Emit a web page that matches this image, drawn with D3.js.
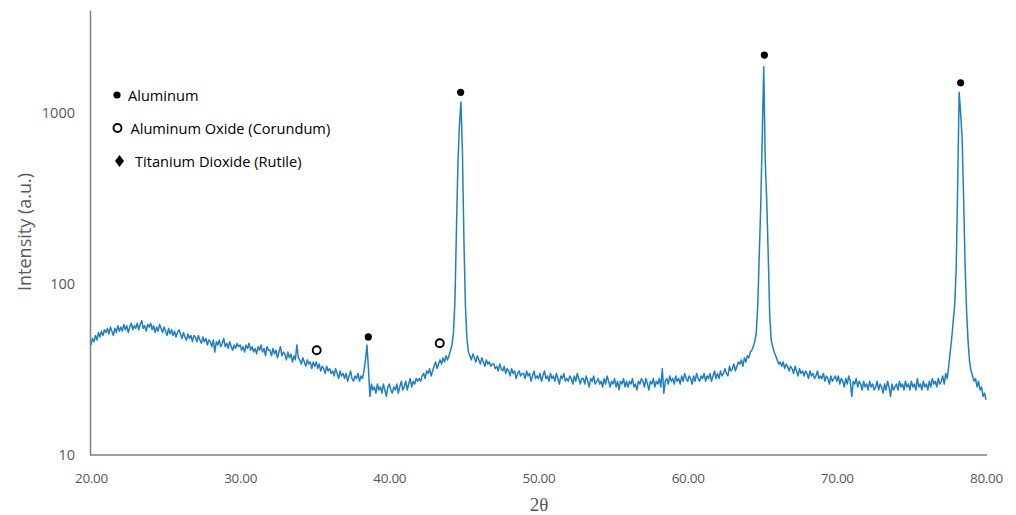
<!DOCTYPE html>
<html>
<head>
<meta charset="utf-8">
<script src="https://cdn.jsdelivr.net/npm/d3@7"></script>
<style>
  html, body { margin: 0; padding: 0; background: #fff; }
  svg { display: block; }
  text { font-family: "Open Sans", "Liberation Sans", sans-serif; }
</style>
</head>
<body>
<svg id="chart" width="1016" height="515"></svg>
<script>
// ---------- DATA ----------
const startAngle = 20.0;   // first 2θ sample
const stepAngle = 0.1;     // 2θ step between samples
// intensity (a.u.), one row per degree: 20.0 ... 79.9, then 80.0
const intensity = [
  44, 48, 46, 50, 47, 52, 49, 53, 50, 54,        // 20
  52, 55, 51, 56, 53, 50, 55, 52, 57, 53,        // 21
  56, 53, 58, 54, 57, 52, 56, 59, 54, 57,        // 22
  55, 59, 54, 58, 61, 55, 57, 53, 58, 56,        // 23
  59, 54, 57, 52, 56, 53, 58, 55, 52, 56,        // 24
  53, 50, 55, 51, 54, 50, 53, 49, 52, 54,        // 25
  51, 48, 52, 49, 47, 51, 48, 50, 46, 50,        // 26
  49, 46, 50, 47, 45, 49, 46, 48, 44, 47,        // 27
  46, 43, 47, 40, 46, 44, 47, 43, 45, 48,        // 28
  43, 45, 42, 46, 43, 41, 44, 42, 45, 43,        // 29
  44, 41, 43, 40, 44, 42, 45, 41, 43, 40,        // 30
  42, 39, 43, 41, 44, 40, 42, 38, 43, 41,        // 31
  41, 38, 42, 39, 41, 37, 40, 43, 38, 40,        // 32
  39, 36, 40, 37, 39, 35, 38, 36, 44, 37,        // 33
  36, 34, 37, 35, 33, 36, 34, 35, 32, 35,        // 34
  33, 35, 32, 34, 31, 33, 32, 30, 33, 31,        // 35
  32, 30, 31, 29, 32, 30, 28, 31, 29, 30,        // 36
  28, 30, 27, 29, 31, 28, 27, 29, 28, 30,        // 37
  27, 29, 28, 31, 36, 44, 32, 22, 26, 24,        // 38
  25, 23, 26, 24, 25, 23, 26, 24, 22, 25,        // 39
  26, 24, 23, 25, 24, 26, 23, 25, 27, 24,        // 40
  25, 27, 24, 26, 28, 25, 27, 26, 28, 27,        // 41
  28, 27, 29, 30, 28, 31, 30, 32, 29, 31,        // 42
  33, 35, 32, 34, 36, 34, 37, 35, 38, 36,        // 43
  38, 41, 44, 52, 80, 210, 510, 850, 1160, 600,  // 44
  180, 75, 48, 40, 38, 36, 39, 37, 35, 38,       // 45
  36, 34, 37, 35, 33, 36, 34, 35, 33, 34,        // 46
  34, 32, 33, 31, 34, 32, 31, 33, 30, 32,        // 47
  31, 29, 32, 30, 31, 28, 30, 31, 29, 30,        // 48
  30, 28, 31, 29, 30, 27, 29, 31, 28, 29,        // 49
  28, 30, 27, 29, 31, 28, 29, 27, 30, 28,        // 50
  29, 27, 30, 28, 26, 29, 28, 30, 27, 28,        // 51
  27, 29, 28, 26, 29, 27, 30, 28, 26, 28,        // 52
  28, 26, 29, 27, 25, 28, 27, 29, 26, 27,        // 53
  28, 26, 27, 25, 28, 26, 29, 27, 25, 27,        // 54
  26, 28, 25, 27, 24, 27, 26, 28, 25, 27,        // 55
  25, 27, 26, 28, 25, 26, 24, 27, 26, 28,        // 56
  27, 25, 28, 26, 24, 27, 26, 28, 25, 27,        // 57
  26, 28, 25, 32, 23, 27, 28, 26, 29, 27,        // 58
  28, 26, 29, 27, 28, 26, 29, 27, 30, 28,        // 59
  27, 29, 28, 26, 29, 27, 30, 28, 27, 29,        // 60
  28, 30, 27, 29, 28, 30, 27, 29, 31, 28,        // 61
  30, 28, 31, 29, 30, 32, 30, 29, 33, 31,        // 62
  32, 34, 31, 33, 35, 34, 36, 33, 37, 35,        // 63
  38, 37, 40, 41, 43, 46, 52, 75, 148, 290,      // 64
  725, 1860, 525, 310, 148, 66, 47, 43, 40, 38,  // 65
  36, 34, 35, 33, 35, 32, 34, 33, 31, 33,        // 66
  32, 30, 33, 31, 29, 32, 30, 31, 29, 31,        // 67
  30, 28, 31, 29, 30, 28, 29, 31, 28, 29,        // 68
  28, 30, 27, 29, 28, 26, 29, 27, 28, 29,        // 69
  27, 29, 26, 28, 27, 25, 28, 26, 29, 27,        // 70
  22, 27, 26, 28, 25, 27, 26, 24, 27, 25,        // 71
  26, 24, 27, 25, 26, 24, 25, 27, 24, 26,        // 72
  25, 23, 26, 24, 27, 25, 22, 26, 24, 25,        // 73
  26, 24, 27, 25, 26, 24, 27, 25, 26, 24,        // 74
  27, 25, 26, 24, 28, 25, 26, 24, 27, 25,        // 75
  26, 24, 27, 25, 28, 26, 27, 25, 28, 26,        // 76
  27, 29, 26, 30, 28, 33, 40, 48, 60, 75,        // 77
  121, 369, 1320, 1000, 710, 316, 127, 69, 46, 35, // 78
  31, 29, 27, 28, 25, 27, 24, 25, 22, 23,        // 79
  21                                             // 80
];

const xTicks = [20, 30, 40, 50, 60, 70, 80];
const yTicks = [10, 100, 1000];

// phase markers (2θ, intensity)
const aluminumMarks = [
  { t: 38.59, v: 49 }, { t: 44.78, v: 1320 }, { t: 65.14, v: 2180 }, { t: 78.30, v: 1500 }
];
const corundumMarks = [
  { t: 35.13, v: 41 }, { t: 43.38, v: 45 }
];
const legendItems = [
  { label: "Aluminum", symbol: "dot" },
  { label: "Aluminum Oxide (Corundum)", symbol: "ring" },
  { label: "Titanium Dioxide (Rutile)", symbol: "diamond" }
];

// ---------- CHART ----------
const svg = d3.select("#chart");
const x = d3.scaleLinear().domain([20, 80]).range([91, 986]);
const y = d3.scaleLog().domain([10, 4000]).range([455, 10]);

const axisColor = "#7f7f7f";
const labelColor = "#595959";
const lineColor = "#1f7fc6";

const pts = intensity.map((v, i) => ({ t: startAngle + i * stepAngle, v }));

// series
svg.append("path")
  .datum(pts)
  .attr("fill", "none")
  .attr("stroke", lineColor)
  .attr("stroke-width", 1.5)
  .attr("stroke-linejoin", "round")
  .attr("d", d3.line().x(d => x(d.t)).y(d => y(d.v)));

// y axis
const gy = svg.append("g")
  .attr("transform", "translate(90,0)")
  .call(d3.axisLeft(y).tickValues(yTicks).tickSize(0).tickPadding(15).tickFormat(d3.format("d")));
gy.select(".domain").attr("stroke", axisColor).attr("stroke-width", 1.5);
gy.selectAll("text").attr("fill", labelColor).style("font-size", "14.5px")
  .style("font-family", "'Open Sans', sans-serif");

// x axis
const gx = svg.append("g")
  .attr("transform", "translate(0,455)")
  .call(d3.axisBottom(x).tickValues(xTicks).tickSize(0).tickPadding(18).tickFormat(d3.format(".2f")));
gx.select(".domain").attr("stroke", axisColor).attr("stroke-width", 1.5)
  .attr("d", "M90,0H987");
gx.selectAll("text").attr("fill", labelColor).style("font-size", "13.5px")
  .style("font-family", "'Open Sans', sans-serif").style("letter-spacing", "-0.3px");

// axis titles
svg.append("text")
  .attr("transform", "translate(24,232) rotate(-90)")
  .attr("text-anchor", "middle")
  .attr("dominant-baseline", "central")
  .attr("fill", labelColor)
  .style("font-size", "18px")
  .text("Intensity (a.u.)");

svg.append("text")
  .attr("x", 539).attr("y", 511)
  .attr("text-anchor", "middle")
  .attr("fill", labelColor)
  .style("font-family", "'Liberation Serif', 'DejaVu Serif', serif")
  .style("font-size", "19px")
  .text("2θ");

// markers
svg.append("g").selectAll("circle")
  .data(aluminumMarks).join("circle")
  .attr("cx", d => x(d.t)).attr("cy", d => y(d.v))
  .attr("r", 3.6).attr("fill", "#000");

svg.append("g").selectAll("circle")
  .data(corundumMarks).join("circle")
  .attr("cx", d => x(d.t)).attr("cy", d => y(d.v))
  .attr("r", 4).attr("fill", "none").attr("stroke", "#000").attr("stroke-width", 1.9);

// legend
const lg = svg.append("g");
const rowY = [95, 128, 161];
legendItems.forEach((it, i) => {
  const cy = rowY[i];
  if (it.symbol === "dot") {
    lg.append("circle").attr("cx", 117).attr("cy", cy).attr("r", 3.6).attr("fill", "#000");
  } else if (it.symbol === "ring") {
    lg.append("circle").attr("cx", 117.5).attr("cy", cy).attr("r", 4).attr("fill", "none")
      .attr("stroke", "#000").attr("stroke-width", 1.9);
  } else {
    lg.append("path").attr("d", `M119.5,${cy - 6}L124,${cy}L119.5,${cy + 6}L115,${cy}Z`).attr("fill", "#000");
  }
  lg.append("text")
    .attr("x", it.symbol === "dot" ? 128 : it.symbol === "ring" ? 130.5 : 135)
    .attr("y", cy)
    .attr("dominant-baseline", "central")
    .attr("fill", "#000")
    .style("font-size", "14.6px")
    .text(it.label);
});
</script>
</body>
</html>
